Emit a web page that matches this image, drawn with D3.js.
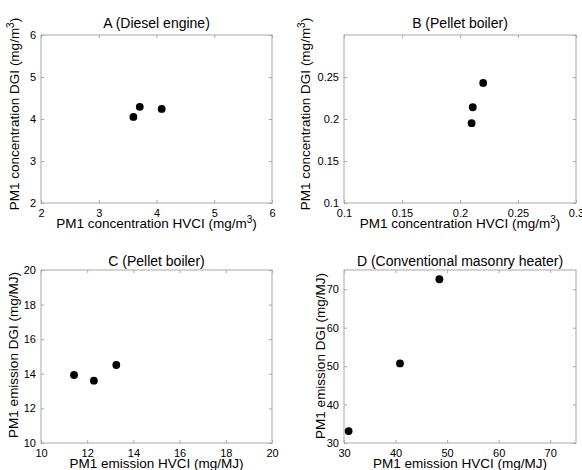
<!DOCTYPE html>
<html>
<head>
<meta charset="utf-8">
<script src="https://cdn.jsdelivr.net/npm/d3@7"></script>
<style>
  body { margin: 0; background: #fff; }
  svg { font-family: "Liberation Sans", Arial, sans-serif; }
  .tick text { fill: #000; }
</style>
</head>
<body>
<svg id="chart" width="582" height="470"></svg>
<script>
/*******************************************************************************************/
// Data

var titles = ['A (Diesel engine)', 'B (Pellet boiler)', 'C (Pellet boiler)', 'D (Conventional masonry heater)'];

var xLabels = ['PM1 concentration HVCI (mg/m|3|)', 'PM1 concentration HVCI (mg/m|3|)',
               'PM1 emission HVCI (mg/MJ)', 'PM1 emission HVCI (mg/MJ)'];
var yLabels = ['PM1 concentration DGI (mg/m|3|)', 'PM1 concentration DGI (mg/m|3|)',
               'PM1 emission DGI (mg/MJ)', 'PM1 emission DGI (mg/MJ)'];

var xDomains = [[2, 6], [0.1, 0.3], [10, 20], [30, 75]];
var yDomains = [[2, 6], [0.1, 0.3], [10, 20], [30, 75]];

var xTicks = [[2, 3, 4, 5, 6], [0.1, 0.15, 0.2, 0.25, 0.3], [10, 12, 14, 16, 18, 20], [30, 40, 50, 60, 70]];
var yTicks = [[2, 3, 4, 5, 6], [0.1, 0.15, 0.2, 0.25], [10, 12, 14, 16, 18, 20], [30, 40, 50, 60, 70]];

var hvciA = [3.6, 3.71, 4.09],   dgiA = [4.05, 4.29, 4.24];
var hvciB = [0.21, 0.211, 0.22], dgiB = [0.195, 0.214, 0.243];
var hvciC = [11.43, 12.29, 13.26], dgiC = [13.93, 13.6, 14.51];
var hvciD = [30.9, 40.86, 48.5], dgiD = [33.1, 50.7, 72.6];

var xSeries = [hvciA, hvciB, hvciC, hvciD];
var ySeries = [dgiA, dgiB, dgiC, dgiD];

/*******************************************************************************************/
// Layout

var boxes = [
  { x0: 41,  x1: 272, y0: 35,  y1: 203, tY: 28,  yOff: 22, yMid: 114 },
  { x0: 344, x1: 576, y0: 35,  y1: 203, tY: 28,  yOff: 34, yMid: 114 },
  { x0: 41,  x1: 272, y0: 270, y1: 443, tY: 266, yOff: 23, yMid: 355 },
  { x0: 344, x1: 576, y0: 270, y1: 443, tY: 266, yOff: 19, yMid: 356 }
];

var svg = d3.select('#chart');
var axisColor = '#a8a8a8';

// text with a "|3|" part written as superscript
function richText(sel, str){
  var parts = str.split('|');
  parts.forEach(function(p, i){
    var t = sel.append('tspan').text(p);
    if (i % 2 === 1) t.attr('baseline-shift', 'super').style('font-size', '10px');
  });
}

function fmt(d){ return String(d); }

/*******************************************************************************************/
// Panels

boxes.forEach(function(b, i){
  var x = d3.scaleLinear().domain(xDomains[i]).range([b.x0, b.x1]);
  var y = d3.scaleLinear().domain(yDomains[i]).range([b.y1, b.y0]);
  var g = svg.append('g');

  // box
  g.append('rect').attr('x', b.x0).attr('y', b.y0).attr('width', b.x1 - b.x0).attr('height', b.y1 - b.y0)
    .style('fill', 'none').style('stroke', axisColor).style('stroke-width', 1);

  // bottom / left axes with labels, ticks pointing inward
  g.append('g').attr('transform', 'translate(0,' + b.y1 + ')')
    .call(d3.axisBottom(x).tickValues(xTicks[i]).tickFormat(fmt).tickSizeInner(-3).tickSizeOuter(0).tickPadding(6));
  g.append('g').attr('transform', 'translate(' + b.x0 + ',0)')
    .call(d3.axisLeft(y).tickValues(yTicks[i]).tickFormat(fmt).tickSizeInner(-3).tickSizeOuter(0).tickPadding(5));
  // top / right ticks without labels
  g.append('g').attr('transform', 'translate(0,' + b.y0 + ')')
    .call(d3.axisTop(x).tickValues(xTicks[i]).tickFormat('').tickSizeInner(-3).tickSizeOuter(0));
  g.append('g').attr('transform', 'translate(' + b.x1 + ',0)')
    .call(d3.axisRight(y).tickValues(yTicks[i].concat(i === 1 ? [0.3] : [])).tickFormat('').tickSizeInner(-3).tickSizeOuter(0));

  g.selectAll('.domain').remove();
  g.selectAll('.tick line').style('stroke', axisColor);
  g.selectAll('.tick text').style('font-size', '11px').style('font-family', '"Liberation Sans", Arial, sans-serif');

  // title
  g.append('text').attr('x', (b.x0 + b.x1) / 2).attr('y', b.tY)
    .style('text-anchor', 'middle').style('font-size', '14px').text(titles[i]);

  // x label
  var xl = g.append('text').attr('x', (b.x0 + b.x1) / 2).attr('y', b.y1 + 25)
    .style('text-anchor', 'middle').style('font-size', '13.5px');
  richText(xl, xLabels[i]);

  // y label
  var yl = g.append('text')
    .attr('transform', 'translate(' + (b.x0 - b.yOff) + ',' + b.yMid + ') rotate(-90)')
    .style('text-anchor', 'middle').style('font-size', '13.5px');
  richText(yl, yLabels[i]);

  // points
  g.selectAll('circle.pt').data(xSeries[i].map(function(v, k){ return { x: v, y: ySeries[i][k] }; }))
    .enter().append('circle').attr('class', 'pt')
    .attr('cx', function(d){ return x(d.x); })
    .attr('cy', function(d){ return y(d.y); })
    .attr('r', 3.9)
    .style('fill', '#000');
});
</script>
</body>
</html>
